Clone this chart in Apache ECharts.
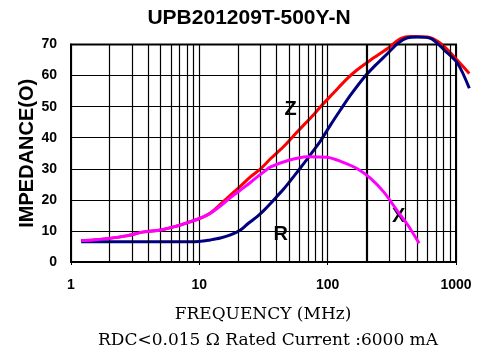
<!DOCTYPE html>
<html>
<head>
<meta charset="utf-8">
<script src="https://cdn.jsdelivr.net/npm/echarts@6/dist/echarts.min.js"></script>
<style>html,body{margin:0;padding:0;background:#fff}#c{width:479px;height:352px}</style>
</head>
<body>
<div id="c"></div>
<script>
// ---- data ----
const titleText = 'UPB201209T-500Y-N';
const yName = 'IMPEDANCE(O)';
const xName = 'FREQUENCY (MHz)';
const noteText = 'RDC<0.015 Ω Rated Current :6000 mA';
const xTicks = [1, 10, 100, 1000];
const minorGridF = [2,3,4,5,6,7,8,9,20,30,40,50,60,70,80,90,200,300,400,500,600,700,800,900];

const zF = [1.2, 1.5, 2, 2.7, 3.7, 5, 6.7, 8, 10, 12.2, 15, 18, 21, 25, 30, 36, 45, 58, 78, 88, 111, 142, 169, 216, 293, 370, 445, 600, 760, 970, 1270];
const zV = [6.9, 7.1, 7.6, 8.4, 9.7, 10.3, 11.6, 12.6, 14.0, 15.8, 19.0, 22.0, 24.5, 27.4, 30.0, 33.3, 37.0, 41.9, 47.5, 50.0, 54.4, 59.0, 61.8, 65.0, 68.7, 71.9, 72.6, 72.4, 70.3, 66.0, 60.7];

const rF = [1.2, 6, 10, 12.2, 14.6, 17.5, 20.9, 24, 28.2, 32, 36, 40, 45.6, 52, 58, 69, 78, 88, 106, 126, 150, 192, 229, 293, 350, 420, 500, 640, 810, 1030, 1270];
const rV = [6.5, 6.5, 6.6, 7.1, 7.7, 8.7, 10.3, 12.4, 14.6, 16.7, 18.9, 21.0, 23.6, 26.5, 29.0, 33.0, 36.0, 39.0, 44.3, 49.0, 53.6, 59.4, 62.8, 67.1, 70.3, 72.2, 72.4, 71.9, 68.2, 63.9, 55.9];

const xF = [1.2, 1.5, 2, 2.7, 3.7, 5, 6.7, 8, 10, 12.2, 15.5, 18.5, 21.6, 25, 30, 36, 48.5, 69, 99, 126, 169, 216, 275, 350, 420, 516];
const xV = [6.9, 7.1, 7.6, 8.4, 9.7, 10.3, 11.6, 12.6, 14.0, 15.7, 18.9, 21.5, 23.6, 25.6, 28.2, 30.6, 32.6, 33.9, 33.7, 32.4, 30.1, 26.9, 22.4, 16.4, 12.0, 6.0];

const curveNames = ['Z', 'R', 'X'];
const curveLabelF = [51.5, 43, 358];
const curveLabelV = [49.2, 8.7, 14.5];

// ---- chart ----
const pairs = (f, v) => f.map((x, i) => [x, v[i]]);
const sans = 'Liberation Sans, Arial, sans-serif';
const serif = 'DejaVu Serif, serif';

const W = 479, gLeft = 71, gRight = 23, gTop = 44.5, gBottom = 90;
const fMin = xTicks[0], fMax = xTicks[xTicks.length - 1];
const fExt = 1300; // curves run a little past the right border, as in the reference
const plotW = W - gLeft - gRight;
const extRight = W - gLeft - plotW * Math.log10(fExt / fMin) / Math.log10(fMax / fMin);

function curve(name, f, v, color, idx) {
  return {
    name, type: 'line', data: pairs(f, v), clip: false, showSymbol: false, smooth: 0.3,
    xAxisIndex: 1, yAxisIndex: 1,
    lineStyle: { color, width: 3 }, animation: false, silent: true, z: 3 + idx,
    markPoint: {
      symbol: 'circle', symbolSize: 0, silent: true, animation: false,
      label: { show: true, position: 'inside', formatter: curveNames[idx], color: '#000',
               fontFamily: sans, fontWeight: 'bold', fontSize: 20 },
      data: [{ coord: [curveLabelF[idx], curveLabelV[idx]] }]
    }
  };
}

const chart = echarts.init(document.getElementById('c'), null, { renderer: 'canvas' });
chart.setOption({
  backgroundColor: '#fff',
  animation: false,
  title: [
    { text: titleText, left: 249, top: 8, padding: 0, textAlign: 'center',
      textStyle: { fontFamily: sans, fontWeight: 'bold', fontSize: 21, color: '#000' } },
    { text: xName, left: 263, top: 306, padding: 0, textAlign: 'center',
      textStyle: { fontFamily: serif, fontWeight: 'normal', fontSize: 17, color: '#000' } },
    { text: noteText, left: 268, top: 332, padding: 0, textAlign: 'center',
      textStyle: { fontFamily: serif, fontWeight: 'normal', fontSize: 17, color: '#000' } }
  ],
  grid: [
    { left: gLeft, right: gRight, top: gTop, bottom: gBottom, show: true, borderColor: '#000', borderWidth: 2, backgroundColor: 'transparent' },
    { left: gLeft, right: extRight, top: gTop, bottom: gBottom, show: false }
  ],
  xAxis: [{
    type: 'log', logBase: 10, min: fMin, max: fMax, gridIndex: 0,
    axisLine: { show: true, lineStyle: { color: '#000', width: 2 } },
    axisTick: { show: true, inside: false, length: 3, lineStyle: { color: '#000' } },
    axisLabel: { fontFamily: sans, fontWeight: 'bold', fontSize: 14, color: '#000', margin: 16,
                 formatter: v => String(v) },
    splitLine: { show: true, lineStyle: { color: '#000', width: 1.2 } }
  }, {
    type: 'log', logBase: 10, min: fMin, max: fExt, gridIndex: 1, show: false
  }],
  yAxis: [{
    type: 'value', min: 0, max: 70, interval: 10, gridIndex: 0,
    name: yName, nameLocation: 'middle', nameGap: 34, nameRotate: 90, nameMoveOverlap: false,
    nameTextStyle: { fontFamily: sans, fontWeight: 'bold', fontSize: 20, color: '#000' },
    axisLine: { show: true, lineStyle: { color: '#000', width: 2 } },
    axisTick: { show: false },
    axisLabel: { fontFamily: sans, fontWeight: 'bold', fontSize: 14, color: '#000', margin: 14 },
    splitLine: { show: true, lineStyle: { color: '#000', width: 1.2 } }
  }, {
    type: 'value', min: 0, max: 70, interval: 10, gridIndex: 1, show: false
  }],
  series: [
    {
      name: 'grid', type: 'line', data: [], z: 1, silent: true, animation: false,
      xAxisIndex: 0, yAxisIndex: 0,
      markLine: {
        silent: true, animation: false, symbol: ['none', 'none'], label: { show: false },
        lineStyle: { color: '#000', width: 1.2, type: 'solid' },
        data: minorGridF.map(f => ({ xAxis: f, lineStyle: { width: f === 200 ? 2.2 : 1.2 } }))
      }
    },
    curve('Z', zF, zV, '#FF0000', 0),
    curve('R', rF, rV, '#000080', 1),
    curve('X', xF, xV, '#FF00FF', 2)
  ]
});
</script>
</body>
</html>
